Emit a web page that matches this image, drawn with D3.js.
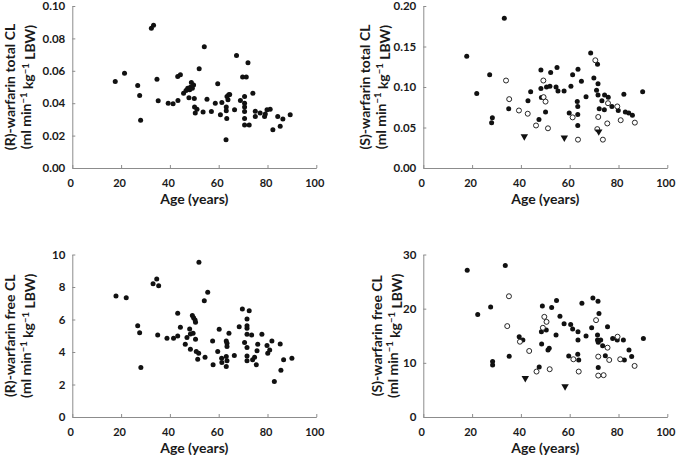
<!DOCTYPE html>
<html>
<head>
<meta charset="utf-8">
<script src="https://cdn.jsdelivr.net/npm/d3@7"></script>
<style>
  html, body { margin: 0; padding: 0; background: #fff; }
  svg { display: block; }
  text { font-family: Lato, "Open Sans", sans-serif; fill: #1a1a1a; }
</style>
</head>
<body>
<svg id="chart" width="676" height="455"></svg>
<script>
// ---------- DATA ----------
const xTicks = [0, 20, 40, 60, 80, 100];
const xTitle = "Age (years)";

// Panel A: (R)-warfarin total CL  [age, CL]
const rTotal = [[17.6,0.0534],[21.4,0.0585],[26.8,0.0509],[27.6,0.0448],[28.0,0.0294],[32.4,0.0862],[33.3,0.0881],[34.7,0.0548],[35.2,0.0415],[39.3,0.040],[41.3,0.0396],[43.2,0.0565],[43.3,0.0417],[44.3,0.0575],[45.6,0.0462],[46.6,0.0478],[47.3,0.0493],[47.8,0.0433],[48.1,0.0483],[48.4,0.0499],[48.8,0.0528],[49.2,0.0493],[49.7,0.0513],[50.0,0.0429],[50.1,0.0376],[50.4,0.0339],[51.1,0.0363],[52.0,0.0612],[53.6,0.0345],[54.1,0.0749],[55.2,0.0425],[57.0,0.0349],[58.6,0.040],[59.6,0.052],[60.7,0.0329],[61.3,0.0405],[63.0,0.0175],[63.1,0.0376],[63.1,0.0353],[63.3,0.0306],[63.4,0.0441],[63.8,0.0421],[64.1,0.0452],[64.5,0.0454],[66.5,0.0359],[67.3,0.0694],[68.9,0.0417],[69.8,0.0561],[70.6,0.0441],[70.6,0.040],[70.6,0.0376],[70.6,0.0349],[70.6,0.0306],[70.6,0.0265],[71.3,0.0561],[72.0,0.0649],[72.5,0.0265],[74.0,0.0462],[75.0,0.0351],[75.0,0.0318],[77.0,0.0339],[78.8,0.0318],[79.1,0.0333],[79.8,0.0359],[81.1,0.0363],[82.2,0.0236],[84.2,0.0318],[85.2,0.0257],[86.3,0.0302],[89.3,0.0329]];
const rTotalTicks = [0, 0.02, 0.04, 0.06, 0.08, 0.10];

// Panel B: (S)-warfarin total CL
const sTotalFilled = [[17.8,0.138],[21.9,0.092],[27.2,0.115],[28.0,0.056],[28.3,0.062],[33.2,0.185],[35.0,0.073],[42.9,0.083],[44.0,0.094],[47.4,0.060],[48.2,0.121],[48.2,0.098],[48.4,0.087],[50.1,0.069],[50.5,0.100],[51.9,0.101],[52.2,0.118],[54.4,0.100],[54.8,0.124],[55.2,0.095],[57.7,0.095],[59.8,0.068],[60.5,0.101],[61.2,0.115],[63.1,0.082],[63.3,0.076],[63.3,0.066],[63.3,0.0525],[63.4,0.122],[64.8,0.107],[66.7,0.088],[68.6,0.142],[69.9,0.111],[71.0,0.096],[71.4,0.128],[71.6,0.104],[71.6,0.090],[72.1,0.073],[73.2,0.083],[74.3,0.090],[74.2,0.072],[75.8,0.0875],[77.3,0.076],[79.9,0.071],[82.2,0.091],[82.8,0.069],[84.2,0.068],[85.7,0.065],[89.9,0.094]];
const sTotalOpen = [[33.9,0.108],[35.2,0.085],[39.2,0.071],[42.8,0.067],[46.2,0.0525],[49.2,0.108],[49.3,0.0875],[50.1,0.082],[51.1,0.049],[61.2,0.0625],[63.4,0.035],[70.5,0.133],[71.7,0.063],[71.3,0.048],[73.6,0.035],[75.4,0.055],[75.7,0.080],[79.5,0.076],[80.9,0.059],[86.7,0.056]];
const sTotalTri = [[41.4,0.039],[57.8,0.0375],[71.9,0.045]];
const sTotalTicks = [0, 0.05, 0.10, 0.15, 0.20];

// Panel C: (R)-warfarin free CL
const rFree = [[17.9,7.44],[22.1,7.34],[26.8,5.62],[27.6,5.19],[28.1,3.05],[33.1,8.20],[34.6,8.49],[35.4,8.08],[35.0,5.05],[38.8,4.85],[41.5,4.85],[43.2,6.38],[43.2,4.99],[44.3,5.52],[46.3,4.48],[47.0,4.89],[48.1,5.42],[48.4,4.17],[48.4,5.11],[49.2,6.24],[49.5,5.15],[49.7,6.11],[50.3,5.97],[50.5,5.83],[50.5,4.79],[50.8,4.03],[51.4,3.56],[51.8,3.93],[51.9,9.53],[54.1,7.16],[54.4,3.68],[55.5,7.67],[57.5,4.68],[57.7,3.21],[59.6,4.03],[60.2,5.40],[61.2,3.62],[61.3,3.35],[63.1,4.68],[63.1,3.11],[63.1,3.72],[63.4,4.54],[63.4,4.34],[63.4,3.46],[64.2,5.15],[66.4,3.78],[68.4,5.56],[69.7,6.65],[70.6,4.58],[71.6,6.03],[71.6,5.62],[71.6,5.46],[71.6,5.09],[71.6,4.27],[71.6,3.76],[71.6,3.46],[72.5,6.54],[73.5,5.05],[73.9,3.52],[74.7,3.68],[75.4,3.21],[75.7,4.07],[76.0,4.48],[77.7,5.09],[79.8,4.40],[80.1,3.93],[80.9,4.13],[81.8,4.68],[82.8,2.19],[85.2,4.50],[85.5,2.88],[86.6,3.52],[90.0,3.62]];
const rFreeTicks = [0, 2, 4, 6, 8, 10];

// Panel D: (S)-warfarin free CL
const sFreeFilled = [[18.0,27.07],[22.3,18.92],[27.6,20.33],[28.4,10.23],[28.4,9.61],[33.6,27.98],[35.2,11.21],[39.3,14.82],[40.8,14.21],[47.5,9.25],[48.4,15.74],[48.5,13.47],[48.8,20.51],[50.4,16.04],[51.1,12.37],[51.6,12.68],[52.6,20.21],[54.4,15.13],[54.6,21.49],[56.0,18.62],[57.7,17.21],[59.6,11.27],[60.4,17.09],[61.2,16.23],[63.3,11.57],[63.4,15.74],[63.4,14.21],[63.7,10.53],[65.0,21.00],[66.7,14.94],[69.0,16.47],[69.5,21.98],[71.6,21.37],[71.4,15.13],[71.4,14.21],[71.7,13.78],[71.7,9.12],[72.0,19.11],[72.7,14.21],[73.5,13.17],[74.6,11.33],[75.5,16.66],[77.6,14.51],[79.5,14.21],[82.0,14.21],[82.4,10.53],[84.3,12.37],[85.4,11.15],[90.2,14.51]];
const sFreeOpen = [[35.1,22.29],[34.4,16.78],[39.6,13.90],[43.4,12.19],[46.4,8.39],[49.6,18.49],[49.0,16.47],[50.5,17.57],[51.8,8.82],[61.5,10.66],[63.7,8.39],[70.8,17.88],[71.7,11.15],[71.7,7.65],[73.9,7.72],[75.5,12.80],[76.2,10.53],[79.6,14.82],[80.7,10.66],[86.6,9.43]];
const sFreeTri = [[41.8,7.16],[58.1,5.63]];
const sFreeTicks = [0, 10, 20, 30];

// ---------- LAYOUT ----------
const panels = [
  { x0: 72.3, x1: 316.3, yB: 168, yT: 6, ticks: rTotalTicks, fmt: ".2f",
    title: "(R)-warfarin total CL", tx1: 9.5, tx2: 23.5,
    filled: rTotal, open: [], tri: [] },
  { x0: 423.3, x1: 667.3, yB: 168, yT: 6, ticks: sTotalTicks, fmt: ".2f",
    title: "(S)-warfarin total CL", tx1: 364, tx2: 378,
    filled: sTotalFilled, open: sTotalOpen, tri: sTotalTri },
  { x0: 72.3, x1: 316.3, yB: 417, yT: 254.5, ticks: rFreeTicks, fmt: "d",
    title: "(R)-warfarin free CL", tx1: 9.5, tx2: 23.5,
    filled: rFree, open: [], tri: [] },
  { x0: 423.3, x1: 667.3, yB: 417, yT: 254.5, ticks: sFreeTicks, fmt: "d",
    title: "(S)-warfarin free CL", tx1: 376, tx2: 390,
    filled: sFreeFilled, open: sFreeOpen, tri: sFreeTri }
];

const svg = d3.select("#chart");
const axisColor = "#8c8c8c";
const dotColor = "#111";

panels.forEach(p => {
  const g = svg.append("g");
  const x = d3.scaleLinear().domain([0, 100]).range([p.x0, p.x1]);
  const y = d3.scaleLinear().domain([0, d3.max(p.ticks)]).range([p.yB, p.yT]);

  const xa = g.append("g").attr("transform", `translate(0,${p.yB})`)
    .call(d3.axisBottom(x).tickValues(xTicks).tickFormat(d3.format("d"))
      .tickSizeInner(-3).tickSizeOuter(0).tickPadding(11));
  const ya = g.append("g").attr("transform", `translate(${p.x0},0)`)
    .call(d3.axisLeft(y).tickValues(p.ticks).tickFormat(d3.format(p.fmt))
      .tickSizeInner(-3).tickSizeOuter(0).tickPadding(7));

  [xa, ya].forEach(a => {
    a.select(".domain").attr("stroke", axisColor).attr("stroke-width", 1);
    a.selectAll(".tick line").attr("stroke", axisColor);
    a.selectAll(".tick text").attr("font-size", 11.5).attr("font-weight", 700)
      .attr("fill", "#1a1a1a").style("font-family", "Lato, sans-serif");
  });
  xa.selectAll(".tick text").attr("font-size", 11).attr("dx", -2);

  // x title
  g.append("text").attr("x", (p.x0 + p.x1) / 2).attr("y", p.yB + 36)
    .attr("text-anchor", "middle").attr("font-size", 14).attr("font-weight", 700)
    .text(xTitle);

  // y title (two lines, rotated)
  const cy = (p.yB + p.yT) / 2;
  g.append("text").attr("transform", `translate(${p.tx1},${cy}) rotate(-90)`)
    .attr("text-anchor", "middle").attr("dominant-baseline", "central")
    .attr("font-size", 14).attr("font-weight", 700).text(p.title);
  const t2 = g.append("text").attr("transform", `translate(${p.tx2},${cy}) rotate(-90)`)
    .attr("text-anchor", "middle").attr("dy", "0.55em")
    .attr("font-size", 14).attr("font-weight", 700);
  t2.append("tspan").text("(ml min");
  t2.append("tspan").attr("dy", "-0.45em").attr("font-size", 9.5).text("\u22121");
  t2.append("tspan").attr("dy", "0.45em").text(" kg");
  t2.append("tspan").attr("dy", "-0.45em").attr("font-size", 9.5).text("\u22121");
  t2.append("tspan").attr("dy", "0.45em").text(" LBW)");

  // marks
  g.append("g").selectAll("circle.f").data(p.filled).join("circle")
    .attr("cx", d => x(d[0])).attr("cy", d => y(d[1])).attr("r", 2.5)
    .attr("fill", dotColor);
  g.append("g").selectAll("circle.o").data(p.open).join("circle")
    .attr("cx", d => x(d[0])).attr("cy", d => y(d[1])).attr("r", 2.5)
    .attr("fill", "#fff").attr("stroke", dotColor).attr("stroke-width", 0.9);
  const tri = d3.symbol().type(d3.symbolTriangle).size(24);
  g.append("g").selectAll("path").data(p.tri).join("path")
    .attr("d", tri)
    .attr("transform", d => `translate(${x(d[0])},${y(d[1])}) rotate(180)`)
    .attr("fill", dotColor);
});
</script>
</body>
</html>
